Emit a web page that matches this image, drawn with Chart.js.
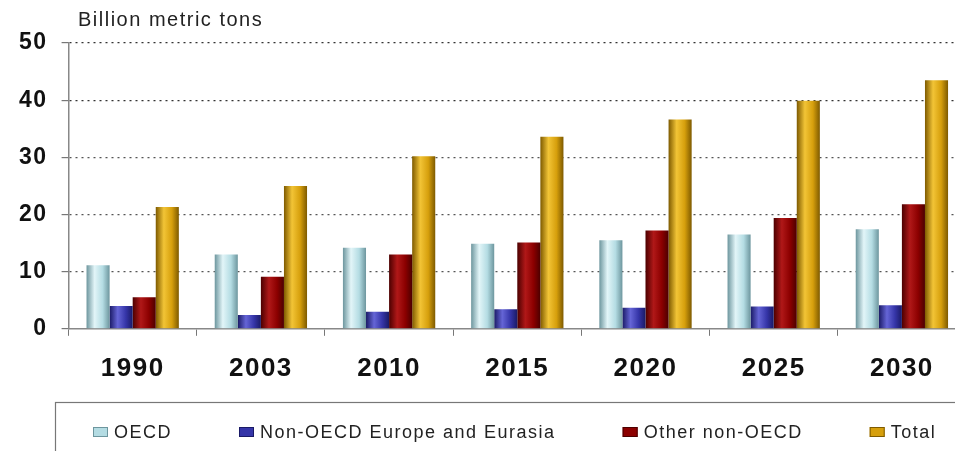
<!DOCTYPE html>
<html>
<head>
<meta charset="utf-8">
<script src="https://cdn.jsdelivr.net/npm/chart.js@4.4.1/dist/chart.umd.min.js"></script>
<style>
  html, body { margin: 0; padding: 0; background: #fff; overflow: hidden; }
  /* the source picture is cropped on the right, so the chart runs a little past the window */
  #wrap { width: 966px; height: 451px; position: relative; }
</style>
</head>
<body>
<div id="wrap"><canvas id="myChart"></canvas></div>
<script>
const years = ["1990", "2003", "2010", "2015", "2020", "2025", "2030"];
const oecd = [11.1, 13.0, 14.2, 14.9, 15.5, 16.5, 17.4];
const nonOecdEurope = [4.0, 2.4, 3.0, 3.4, 3.7, 3.9, 4.1];
const otherNonOecd = [5.5, 9.1, 13.0, 15.1, 17.2, 19.4, 21.8];
const total = [21.3, 25.0, 30.2, 33.6, 36.6, 39.9, 43.5];
const yTicks = [0, 10, 20, 30, 40, 50];

const FONT = "Arial, 'Liberation Sans', sans-serif";
const palette = [
  { base: "#b4dce3", light: "#e2f5f8", dark: "#6d969e" },
  { base: "#3535a8", light: "#6565d6", dark: "#1a1a66" },
  { base: "#8c0000", light: "#b01818", dark: "#4c0000" },
  { base: "#d69f0c", light: "#f2c436", dark: "#7e5a00" }
];
const catPct = 0.72;

// cylinder-like shading, computed from the x scale so it works on the first draw
function shade(i) {
  const c = palette[i];
  return function (ctx) {
    const chart = ctx.chart;
    const xs = chart.scales.x;
    if (!xs || ctx.dataIndex === undefined) return c.base;
    const cw = (xs.right - xs.left) / years.length;
    const bw = cw * catPct / 4;
    const cx = xs.getPixelForValue(ctx.dataIndex) + (i - 1.5) * bw;
    if (!isFinite(cx) || !isFinite(bw) || bw <= 0) return c.base;
    const g = chart.ctx.createLinearGradient(cx - bw / 2, 0, cx + bw / 2, 0);
    g.addColorStop(0, c.dark);
    g.addColorStop(0.35, c.light);
    g.addColorStop(0.7, c.base);
    g.addColorStop(1, c.dark);
    return g;
  };
}

// the original lettering is wide, so space the letters a little
function spacing(chart) { chart.ctx.letterSpacing = "1.5px"; }

const extras = {
  id: "extras",
  beforeLayout: spacing,
  beforeDraw: spacing,
  afterDraw(chart) {
    const ctx = chart.ctx;
    ctx.save();
    ctx.letterSpacing = "1.5px";
    // legend frame
    ctx.strokeStyle = "#777";
    ctx.lineWidth = 1.2;
    ctx.strokeRect(55.5, 402.5, 1000, 100);
    // unit label
    ctx.fillStyle = "#222";
    ctx.font = "20px " + FONT;
    ctx.textBaseline = "middle";
    ctx.fillText("Billion metric tons", 78, 20);
    // legend items
    ctx.font = "18px " + FONT;
    let x = 93;
    const y = 432;
    chart.data.datasets.forEach((d, i) => {
      ctx.fillStyle = palette[i].base;
      ctx.fillRect(x, y - 5, 15, 10);
      ctx.strokeStyle = palette[i].dark;
      ctx.lineWidth = 1;
      ctx.strokeRect(x + 0.5, y - 4.5, 14, 9);
      ctx.fillStyle = "#222";
      ctx.fillText(d.label, x + 21, y + 1);
      x += 21 + ctx.measureText(d.label).width + 67;
    });
    ctx.restore();
  }
};

const ctx = document.getElementById("myChart");
new Chart(ctx, {
  type: "bar",
  data: {
    labels: years,
    datasets: [
      { label: "OECD", data: oecd, backgroundColor: shade(0) },
      { label: "Non-OECD Europe and Eurasia", data: nonOecdEurope, backgroundColor: shade(1) },
      { label: "Other non-OECD", data: otherNonOecd, backgroundColor: shade(2) },
      { label: "Total", data: total, backgroundColor: shade(3) }
    ]
  },
  options: {
    responsive: true,
    maintainAspectRatio: false,
    animation: false,
    datasets: { bar: { categoryPercentage: catPct, barPercentage: 1.0 } },
    layout: { padding: { top: 43, right: 0, left: 5, bottom: 50 } },
    plugins: {
      tooltip: { enabled: false },
      legend: { display: false }
    },
    scales: {
      x: {
        grid: {
          offset: true,
          drawOnChartArea: false,
          drawTicks: true,
          tickLength: 7,
          color: "#777"
        },
        border: { color: "#888", width: 1.5 },
        ticks: {
          color: "#111",
          padding: 17,
          font: { family: FONT, size: 26, weight: "bold" }
        }
      },
      y: {
        min: 0,
        max: 50,
        afterBuildTicks(axis) { axis.ticks = yTicks.map(v => ({ value: v })); },
        grid: {
          color: c => (c.tick && c.tick.value === 0 ? "rgba(0,0,0,0)" : (c.tick && c.tick.value >= 40 ? "#333" : "#555")),
          tickColor: "#777",
          tickLength: 7,
          lineWidth: 1.2
        },
        border: { color: "#888", width: 1.5, dash: [2, 4] },
        ticks: {
          color: "#111",
          padding: 14,
          font: { family: FONT, size: 23, weight: "bold" }
        }
      }
    }
  },
  plugins: [extras]
});
</script>
</body>
</html>
